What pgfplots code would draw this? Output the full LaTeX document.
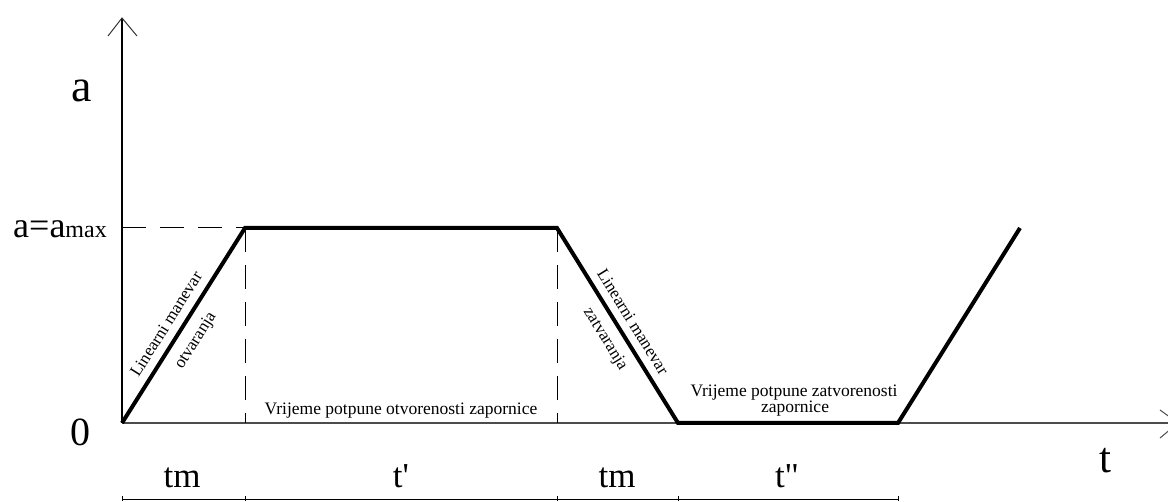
\documentclass[border=0pt]{standalone}
\usepackage{fontspec}
\setmainfont{Liberation Serif}
\newfontfamily\plainserif{Liberation Serif}
\usepackage{pgfplots}
\pgfplotsset{compat=1.18}
\begin{document}
\begin{tikzpicture}
\begin{axis}[
  width=1168pt, height=501pt, scale only axis,
  xmin=0, xmax=1168, ymin=0, ymax=501,
  hide axis, clip=true, clip mode=individual,
]
% y axis and arrow
\addplot[black, line width=1.1pt] coordinates {(122,78) (122,483)};
\addplot[black!80, line width=1pt] coordinates {(108,465) (122,483) (137,465)};
% x axis and arrow
\addplot[black!70, line width=1.4pt] coordinates {(122,78) (1168,78)};
\addplot[black!70, line width=1pt] coordinates {(1160,91) (1178,78) (1160,63)};
% dashed guides
\addplot[black, line width=1pt, dash pattern=on 24pt off 14pt] coordinates {(122,273) (245,273)};
\addplot[black, line width=1pt, dash pattern=on 24pt off 13pt] coordinates {(245,273) (245,78)};
\addplot[black, line width=1pt, dash pattern=on 24pt off 13pt] coordinates {(557,273) (557,78)};
% main curve
\addplot[black, line width=4pt, line join=miter] coordinates {(122,78) (245,273) (557,273) (678,78) (898,78) (1020,273)};
% dimension line
\addplot[black, line width=1pt] coordinates {(122,2) (898,2)};
\addplot[black, line width=1pt] coordinates {(122,0) (122,5)};
\addplot[black, line width=1pt] coordinates {(245,0) (245,5)};
\addplot[black, line width=1pt] coordinates {(557,0) (557,5)};
\addplot[black, line width=1pt] coordinates {(678,0) (678,5)};
\addplot[black, line width=1pt] coordinates {(898,0) (898,5)};
% labels
\node[anchor=base, inner sep=0pt, font=\fontsize{46}{46}\selectfont] at (axis cs:82,399) {a};
\node[anchor=base east, inner sep=0pt] at (axis cs:107,263) {\fontsize{36}{36}\selectfont a=a\fontsize{24}{24}\selectfont max};
\node[anchor=base, inner sep=0pt, font=\fontsize{40}{40}\selectfont] at (axis cs:80,56) {0};
\node[anchor=base, inner sep=0pt, font=\fontsize{43}{43}\selectfont] at (axis cs:1105,28) {t};
\node[anchor=base, inner sep=0pt, font=\fontsize{35}{35}\selectfont] at (axis cs:182,13) {tm};
\node[anchor=base, inner sep=0pt, font=\fontsize{35}{35}\plainserif] at (axis cs:401,13) {t'};
\node[anchor=base, inner sep=0pt, font=\fontsize{35}{35}\selectfont] at (axis cs:617,13) {tm};
\node[anchor=base, inner sep=0pt, font=\fontsize{35}{35}\plainserif] at (axis cs:787,13) {t"};
% annotations
\node[rotate=57.8, inner sep=0pt, font=\fontsize{17}{17}\selectfont] at (axis cs:166,177) {Linearni manevar};
\node[rotate=57.8, inner sep=0pt, font=\fontsize{17}{17}\selectfont] at (axis cs:196,160) {otvaranja};
\node[rotate=-58.2, inner sep=0pt, font=\fontsize{17}{17}\selectfont] at (axis cs:633,179) {Linearni manevar};
\node[rotate=-58.2, inner sep=0pt, font=\fontsize{17}{17}\selectfont] at (axis cs:605,162) {zatvaranja};
\node[anchor=base, inner sep=0pt, font=\fontsize{17.5}{17.5}\selectfont] at (axis cs:401,86) {Vrijeme potpune otvorenosti zapornice};
\node[anchor=base, inner sep=0pt, font=\fontsize{17.5}{17.5}\selectfont] at (axis cs:794,104) {Vrijeme potpune zatvorenosti};
\node[anchor=base, inner sep=0pt, font=\fontsize{17.5}{17.5}\selectfont] at (axis cs:795,88) {zapornice};
\end{axis}
\pgfresetboundingbox
\useasboundingbox (current axis.south west) rectangle (current axis.north east);
\end{tikzpicture}
\end{document}
